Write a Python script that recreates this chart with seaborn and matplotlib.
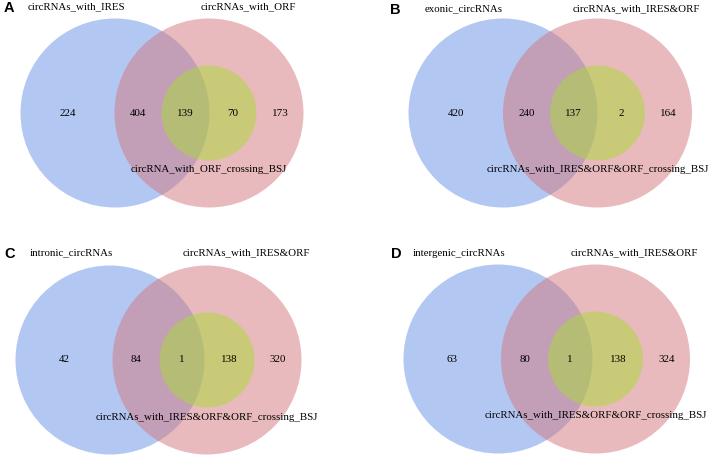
import matplotlib
matplotlib.use("Agg")
import matplotlib.pyplot as plt
from matplotlib.patches import Circle
import seaborn as sns

sns.set_theme(style="white")
plt.rcParams['font.family'] = ['Liberation Serif', 'DejaVu Serif']
plt.rcParams['text.color'] = 'black'

# panel data
panel_letters = ["A", "B", "C", "D"]
left_sets = ["circRNAs_with_IRES", "exonic_circRNAs", "intronic_circRNAs", "intergenic_circRNAs"]
right_sets = ["circRNAs_with_ORF", "circRNAs_with_IRES&ORF", "circRNAs_with_IRES&ORF", "circRNAs_with_IRES&ORF"]
inner_sets = ["circRNA_with_ORF_crossing_BSJ", "circRNAs_with_IRES&ORF&ORF_crossing_BSJ",
              "circRNAs_with_IRES&ORF&ORF_crossing_BSJ", "circRNAs_with_IRES&ORF&ORF_crossing_BSJ"]
# region counts: left only, left&right, left&right&inner, right&inner, right only
left_only = [224, 420, 42, 63]
left_right = [404, 240, 84, 80]
all_three = [139, 137, 1, 1]
right_inner = [70, 2, 138, 138]
right_only = [173, 164, 320, 324]

# layout per panel (local pixel units)
blue_x = [115, 149, 110, 144]
red_x = [209, 243.5, 207, 241.5]
center_y = [113, 113, 131, 130]
letter_x = [9, 41, 10, 42]
title_y = [7, 9, 24, 24]
R = 94.5
r = 47.5

blue_c = (104, 145, 232)
red_c = (210, 118, 125)
yel_c = (170, 218, 53)
to01 = lambda c: tuple(v / 255 for v in c)

fig, axes = plt.subplots(2, 2, figsize=(7.08, 4.58), dpi=100)
fig.subplots_adjust(0, 0, 1, 1, 0, 0)

for i, ax in enumerate(axes.flat):
    bx, rx, cy = blue_x[i], red_x[i], center_y[i]
    ax.add_patch(Circle((bx, cy), R, facecolor=to01(blue_c), alpha=0.5, lw=0))
    ax.add_patch(Circle((rx, cy), R, facecolor=to01(red_c), alpha=0.5, lw=0))
    ax.add_patch(Circle((rx, cy), r, facecolor=to01(yel_c), alpha=0.5, lw=0))

    edges = [bx - R, rx - R, rx - r, bx + R, rx + r, rx + R]
    counts = [left_only[i], left_right[i], all_three[i], right_inner[i], right_only[i]]
    for k, n in enumerate(counts):
        ax.text((edges[k] + edges[k + 1]) / 2, cy, str(n), ha="center", va="center", fontsize=7.9)

    ax.text(bx - 39, title_y[i], left_sets[i], ha="center", va="center", fontsize=7.8)
    ax.text(rx + 39, title_y[i], right_sets[i], ha="center", va="center", fontsize=7.8)
    ax.text(rx, cy + 57, inner_sets[i], ha="center", va="center", fontsize=7.8)
    ax.text(letter_x[i], title_y[i] + 1, panel_letters[i], ha="center", va="center", fontsize=10.5,
            fontweight="bold", family=["Liberation Sans", "DejaVu Sans"])

    ax.set_xlim(0, 354)
    ax.set_ylim(229, 0)
    ax.set_aspect("auto")
    ax.axis("off")

fig.savefig("out.png", dpi=100)
